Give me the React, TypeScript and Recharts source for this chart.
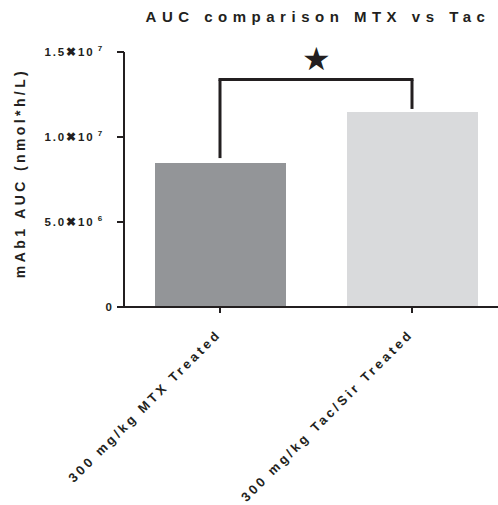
import { Bar, BarChart, Cell, ReferenceLine, XAxis, YAxis } from "recharts";

const categories = ["300 mg/kg MTX Treated", "300 mg/kg Tac/Sir Treated"];
const aucValues = [8.47e6, 11.47e6];
const barColors = ["#939598", "#d9dadc"];
const yTicks = [0, 5e6, 1e7, 1.5e7];
const bracketTop = 1.338e7;
const bracketEnds = [8.76e6, 1.165e7];

const title = "AUC comparison MTX vs Tac";
const yLabel = "mAb1 AUC (nmol*h/L)";

const ink = "#231f20";
const font = "'Liberation Sans', Arial, sans-serif";

const data = categories.map((name, i) => ({ name, auc: aucValues[i] }));

function YTick({ x, y, payload }: any) {
  const v = payload.value as number;
  if (v === 0) {
    return (
      <text x={x} y={y} dy={4} textAnchor="end" fontFamily={font} fontWeight="bold" fontSize={11.5} fill={ink}>
        0
      </text>
    );
  }
  const exp = Math.floor(Math.log10(v));
  const mant = (v / Math.pow(10, exp)).toFixed(1);
  return (
    <text x={x - 8} y={y} dy={4} textAnchor="end" fontFamily={font} fontWeight="bold" fontSize={11.5} fill={ink} letterSpacing={1.9}>
      <tspan>{mant}</tspan>
      <tspan>✖</tspan>
      <tspan>10</tspan>
      <tspan dx={3} dy={-5} fontSize={8}>
        {exp}
      </tspan>
    </text>
  );
}

function XTick({ x, y, payload }: any) {
  const ax = x + 2;
  const ay = y + 20;
  return (
    <text
      x={ax}
      y={ay}
      textAnchor="end"
      transform={`rotate(-45 ${ax} ${ay})`}
      fontFamily={font}
      fontWeight="bold"
      fontSize={13}
      fill={ink}
      letterSpacing={3.1}
    >
      {payload.value}
    </text>
  );
}

export default function App() {
  return (
    <div style={{ position: "absolute", left: 0, top: 0, width: 498, height: 505, overflow: "hidden", background: "#fff" }}>
      <div
        style={{
          position: "absolute",
          left: 140,
          top: 9,
          width: 356,
          textAlign: "center",
          fontFamily: font,
          fontWeight: "bold",
          fontSize: 15,
          lineHeight: "15px",
          letterSpacing: 5.5,
          color: ink,
          whiteSpace: "nowrap"
        }}
      >
        {title}
      </div>
      <BarChart width={510} height={505} data={data} margin={{ top: 52, right: 2, bottom: 0, left: 0 }}>
        <XAxis
          dataKey="name"
          height={198}
          interval={0}
          axisLine={{ stroke: ink, strokeWidth: 2 }}
          tickLine={{ stroke: ink, strokeWidth: 2 }}
          tickSize={6}
          tick={<XTick />}
        />
        <YAxis
          width={124}
          domain={[0, 1.5e7]}
          ticks={yTicks}
          interval={0}
          axisLine={{ stroke: ink, strokeWidth: 2 }}
          tickLine={{ stroke: ink, strokeWidth: 2 }}
          tickSize={7}
          tickMargin={5}
          tick={<YTick />}
          label={{
            value: yLabel,
            content: () => (
              <text
                x={25}
                y={173}
                transform="rotate(-90 25 173)"
                textAnchor="middle"
                fontFamily={font}
                fontWeight="bold"
                fontSize={14}
                fill={ink}
                letterSpacing={3.4}
              >
                {yLabel}
              </text>
            )
          }}
        />
        <Bar dataKey="auc" barSize={131} isAnimationActive={false}>
          {data.map((d, i) => (
            <Cell key={d.name} fill={barColors[i]} />
          ))}
        </Bar>
        <ReferenceLine
          segment={[
            { x: categories[0], y: bracketTop },
            { x: categories[1], y: bracketTop }
          ]}
          stroke={ink}
          strokeWidth={3}
          strokeLinecap="square"
          label={{ value: "★", position: "top", fontSize: 32, fill: ink, offset: 10 }}
        />
        {categories.map((c, i) => (
          <ReferenceLine
            key={c}
            segment={[
              { x: c, y: bracketTop },
              { x: c, y: bracketEnds[i] }
            ]}
            stroke={ink}
            strokeWidth={3}
          />
        ))}
      </BarChart>
    </div>
  );
}
